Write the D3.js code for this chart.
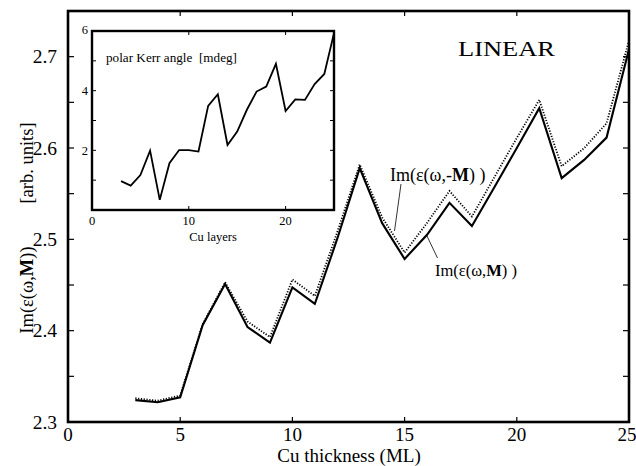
<!DOCTYPE html>
<html><head><meta charset="utf-8">
<script src="https://d3js.org/d3.v7.min.js"></script>
<style>body{margin:0;background:#fff}svg{display:block}</style>
</head><body>
<script>
const layers = [3,4,5,6,7,8,9,10,11,12,13,14,15,16,17,18,19,20,21,22,23,24,25];
const imEpsM = [2.324,2.3216,2.327,2.406,2.451,2.404,2.387,2.4475,2.4293,2.5007,2.578,2.5177,2.4785,2.505,2.540,2.5147,2.557,2.600,2.6436,2.567,2.587,2.6114,2.708];
const imEpsMinusM = [2.326,2.3233,2.329,2.407,2.453,2.410,2.393,2.456,2.438,2.508,2.582,2.524,2.4855,2.518,2.553,2.525,2.568,2.611,2.6527,2.5800,2.5998,2.627,2.7177];
const kerrAngle = [0.97,0.82,1.17,1.99,0.34,1.57,2.01,2.01,1.96,3.49,3.88,2.18,2.63,3.36,3.97,4.14,4.9,3.32,3.71,3.69,4.22,4.56,5.93];
const mainXTicks = [0,5,10,15,20,25];
const mainYTicks = [2.3,2.4,2.5,2.6,2.7];
const mainYMinor = [2.35,2.45,2.55,2.65];
const insetXTicks = [0,10,20];
const insetYTicks = [2,4,6];
const insetYMinor = [1,2,3,4,5];

const FONT = "'Liberation Serif', 'Times New Roman', Times, 'DejaVu Serif', serif";
const W=636,H=466;
const svg=d3.select("body").append("svg").attr("width",W).attr("height",H)
  .attr("font-family",FONT);

const x=d3.scaleLinear().domain([0,25]).range([68,629]);
const y=d3.scaleLinear().domain([2.3,2.75]).range([422,11]);

// ticks (inward)
const tk=svg.append("g").attr("stroke","#000").attr("stroke-width",1.2);
mainYTicks.concat(mainYMinor).forEach(v=>{
  tk.append("line").attr("x1",x(0)).attr("x2",x(0)+6).attr("y1",y(v)).attr("y2",y(v));
  tk.append("line").attr("x1",x(25)).attr("x2",x(25)-6).attr("y1",y(v)).attr("y2",y(v));
});
[5,10,15,20].forEach(v=>{
  tk.append("line").attr("x1",x(v)).attr("x2",x(v)).attr("y1",y(2.3)).attr("y2",y(2.3)-5);
  tk.append("line").attr("x1",x(v)).attr("x2",x(v)).attr("y1",y(2.75)).attr("y2",y(2.75)+5);
});

// tick labels
mainYTicks.forEach(v=>{
  svg.append("text").attr("x",57).attr("y",y(v)+6.5).attr("text-anchor","end")
    .attr("font-size",19.5).text(v.toFixed(1));
});
mainXTicks.forEach(v=>{
  svg.append("text").attr("x",x(v)+(v===25?-2:0)).attr("y",441).attr("text-anchor","middle")
    .attr("font-size",19).text(v);
});
svg.append("text").attr("x",349).attr("y",462).attr("text-anchor","middle").attr("font-size",19).text("Cu thickness (ML)");

// y label (two parts)
const yl=svg.append("text").attr("transform","translate(33,290) rotate(-90)").attr("text-anchor","middle").attr("font-size",18.5);
yl.append("tspan").text("Im(ε(ω,");
yl.append("tspan").attr("font-weight","bold").text("M");
yl.append("tspan").text("))");
svg.append("text").attr("transform","translate(33,163) rotate(-90)").attr("text-anchor","middle").attr("font-size",18.5).text("[arb. units]");

// curves
const line=d3.line().x(d=>x(d[0])).y(d=>y(d[1]));
svg.append("path").datum(layers.map((l,i)=>[l,imEpsMinusM[i]])).attr("d",line)
  .attr("fill","none").attr("stroke","#000").attr("stroke-width",1.8).attr("stroke-dasharray","1.2,1.6");
svg.append("path").datum(layers.map((l,i)=>[l,imEpsM[i]])).attr("d",line)
  .attr("fill","none").attr("stroke","#000").attr("stroke-width",2.1);

// frame
svg.append("rect").attr("x",x(0)).attr("y",y(2.75)).attr("width",x(25)-x(0)).attr("height",y(2.3)-y(2.75))
  .attr("fill","none").attr("stroke","#000").attr("stroke-width",2.6);

// LINEAR
svg.append("text").attr("x",458).attr("y",56).attr("font-size",22)
  .attr("textLength",97).attr("lengthAdjust","spacingAndGlyphs").text("LINEAR");

// curve labels
const l1=svg.append("text").attr("x",390).attr("y",181).attr("font-size",18);
l1.append("tspan").text("Im(ε(ω,-");
l1.append("tspan").attr("font-weight","bold").text("M");
l1.append("tspan").text(") )");
svg.append("line").attr("x1",401).attr("y1",184).attr("x2",394.5).attr("y2",231).attr("stroke","#000").attr("stroke-width",0.8);
const l2=svg.append("text").attr("x",435).attr("y",276).attr("font-size",16.5);
l2.append("tspan").text("Im(ε(ω,");
l2.append("tspan").attr("font-weight","bold").text("M");
l2.append("tspan").text(") )");
svg.append("line").attr("x1",426.5).attr("y1",235).attr("x2",437.5).attr("y2",258).attr("stroke","#000").attr("stroke-width",0.8);

// inset
const ix=d3.scaleLinear().domain([0,25]).range([92,334]);
const iy=d3.scaleLinear().domain([0,6]).range([210,31]);
svg.append("rect").attr("x",ix(0)).attr("y",iy(6)).attr("width",ix(25)-ix(0)).attr("height",iy(0)-iy(6)).attr("fill","#fff");
const itk=svg.append("g").attr("stroke","#000").attr("stroke-width",1);
insetYMinor.forEach(v=>{
  itk.append("line").attr("x1",ix(0)).attr("x2",ix(0)+4).attr("y1",iy(v)).attr("y2",iy(v));
  itk.append("line").attr("x1",ix(25)).attr("x2",ix(25)-4).attr("y1",iy(v)).attr("y2",iy(v));
});
[10,20].forEach(v=>{
  itk.append("line").attr("x1",ix(v)).attr("x2",ix(v)).attr("y1",iy(0)).attr("y2",iy(0)-4);
  itk.append("line").attr("x1",ix(v)).attr("x2",ix(v)).attr("y1",iy(6)).attr("y2",iy(6)+4);
});
svg.append("path").datum(layers.map((l,i)=>[l,kerrAngle[i]]))
  .attr("d",d3.line().x(d=>ix(d[0])).y(d=>iy(d[1])))
  .attr("fill","none").attr("stroke","#000").attr("stroke-width",1.8);
svg.append("rect").attr("x",ix(0)).attr("y",iy(6)).attr("width",ix(25)-ix(0)).attr("height",iy(0)-iy(6))
  .attr("fill","none").attr("stroke","#000").attr("stroke-width",2.4);
insetYTicks.forEach(v=>{
  svg.append("text").attr("x",88).attr("y",iy(v)+(v===6?2.5:4.5)).attr("text-anchor","end").attr("font-size",12.5).text(v);
});
insetXTicks.forEach(v=>{
  svg.append("text").attr("x",ix(v)).attr("y",225).attr("text-anchor","middle").attr("font-size",12.5).text(v);
});
svg.append("text").attr("x",213).attr("y",241).attr("text-anchor","middle").attr("font-size",12.5).text("Cu layers");
svg.append("text").attr("x",106).attr("y",62).attr("font-size",13)
  .attr("textLength",131).attr("lengthAdjust","spacingAndGlyphs").text("polar Kerr angle\u00a0\u00a0[mdeg]");
</script>
</body></html>
